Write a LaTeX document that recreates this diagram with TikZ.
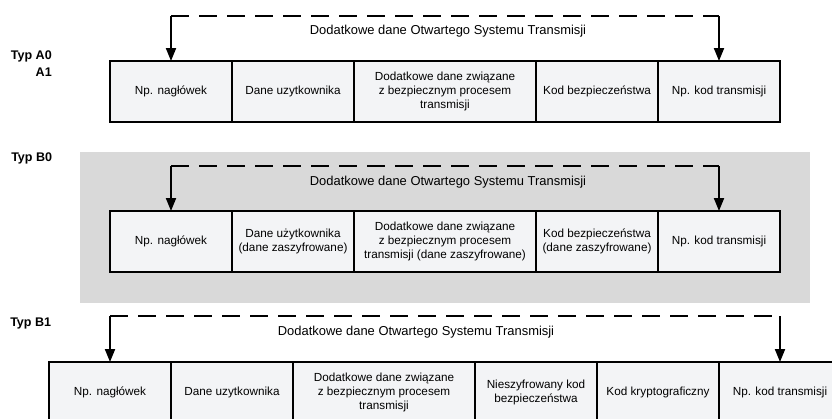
\documentclass[tikz,border=0pt]{standalone}
\usepackage{fontspec}
\setmainfont{Liberation Sans}
\usetikzlibrary{positioning,arrows.meta}
\definecolor{polefill}{HTML}{F3F4F6}
\definecolor{tlo}{HTML}{D9D9D9}
\tikzset{
  pole/.style={draw, line width=1.6pt, fill=polefill, minimum width=91.5pt, minimum height=45.75pt,
    inner xsep=1pt, outer sep=0pt, align=center, font=\fontsize{8.8}{10.5}\selectfont},
  szerokie/.style={pole, minimum width=136.5pt},
  kreska/.style={line width=1.5pt, dash pattern=on 13.5pt off 7.5pt},
  strzalka/.style={line width=1.5pt, -{Triangle[width=7.5pt, length=9.75pt]}},
  opis/.style={font=\fontsize{9.7}{11}\selectfont},
  typ/.style={font=\fontsize{9.4}{12.75}\selectfont\bfseries, inner sep=0pt}
}
\begin{document}
\begin{tikzpicture}[x=0.75pt, y=-0.75pt]
  \clip (0,0) rectangle (832,418);
  % tlo dla typu B0
  \fill[tlo] (80,152) rectangle (810,303);

  % Typ A0 / A1
  \node[typ, align=right, anchor=north east] (typa) at (52,50) {Typ A0\\A1};
  \node[pole, anchor=north west] (a1) at (110,61) {Np. nagłówek};
  \node[pole, right=0pt of a1] (a2) {Dane uzytkownika};
  \node[szerokie, right=0pt of a2] (a3) {Dodatkowe dane związane\\z bezpiecznym procesem\\transmisji};
  \node[pole, right=0pt of a3] (a4) {Kod bezpieczeństwa};
  \node[pole, right=0pt of a4] (a5) {Np. kod transmisji};
  \coordinate (la) at ([yshift=33.75pt]a1.north);
  \coordinate (ra) at ([yshift=33.75pt]a5.north);
  \draw[kreska] (la) -- (ra);
  \draw[strzalka] (la) -- (a1.north);
  \draw[strzalka] (ra) -- (a5.north);
  \node[opis] (ta) at (448,31) {Dodatkowe dane Otwartego Systemu Transmisji};

  % Typ B0
  \node[typ, anchor=west] (typb0) at (11,158) {Typ B0};
  \node[pole, anchor=north west] (b1) at (110,211) {Np. nagłówek};
  \node[pole, right=0pt of b1] (b2) {Dane użytkownika\\(dane zaszyfrowane)};
  \node[szerokie, right=0pt of b2] (b3) {Dodatkowe dane związane\\z bezpiecznym procesem\\transmisji (dane zaszyfrowane)};
  \node[pole, right=0pt of b3] (b4) {Kod bezpieczeństwa\\(dane zaszyfrowane)};
  \node[pole, right=0pt of b4] (b5) {Np. kod transmisji};
  \coordinate (lb) at ([yshift=33.75pt]b1.north);
  \coordinate (rb) at ([yshift=33.75pt]b5.north);
  \draw[kreska] (lb) -- (rb);
  \draw[strzalka] (lb) -- (b1.north);
  \draw[strzalka] (rb) -- (b5.north);
  \node[opis] (tb) at (448,182) {Dodatkowe dane Otwartego Systemu Transmisji};

  % Typ B1
  \node[typ, anchor=west] (typb1) at (10,323) {Typ B1};
  \node[pole, anchor=north west] (c1) at (49,362) {Np. nagłówek};
  \node[pole, right=0pt of c1] (c2) {Dane uzytkownika};
  \node[szerokie, right=0pt of c2] (c3) {Dodatkowe dane związane\\z bezpiecznym procesem\\transmisji};
  \node[pole, right=0pt of c3] (c4) {Nieszyfrowany kod\\bezpieczeństwa};
  \node[pole, right=0pt of c4] (c5) {Kod kryptograficzny};
  \node[pole, right=0pt of c5] (c6) {Np. kod transmisji};
  \coordinate (lc) at ([yshift=34.5pt]c1.north);
  \coordinate (rc) at ([yshift=34.5pt]c6.north);
  \draw[kreska] (lc) -- (rc);
  \draw[strzalka] (lc) -- (c1.north);
  \draw[strzalka] (rc) -- (c6.north);
  \node[opis] (tc) at (416,332) {Dodatkowe dane Otwartego Systemu Transmisji};
\end{tikzpicture}
\end{document}
